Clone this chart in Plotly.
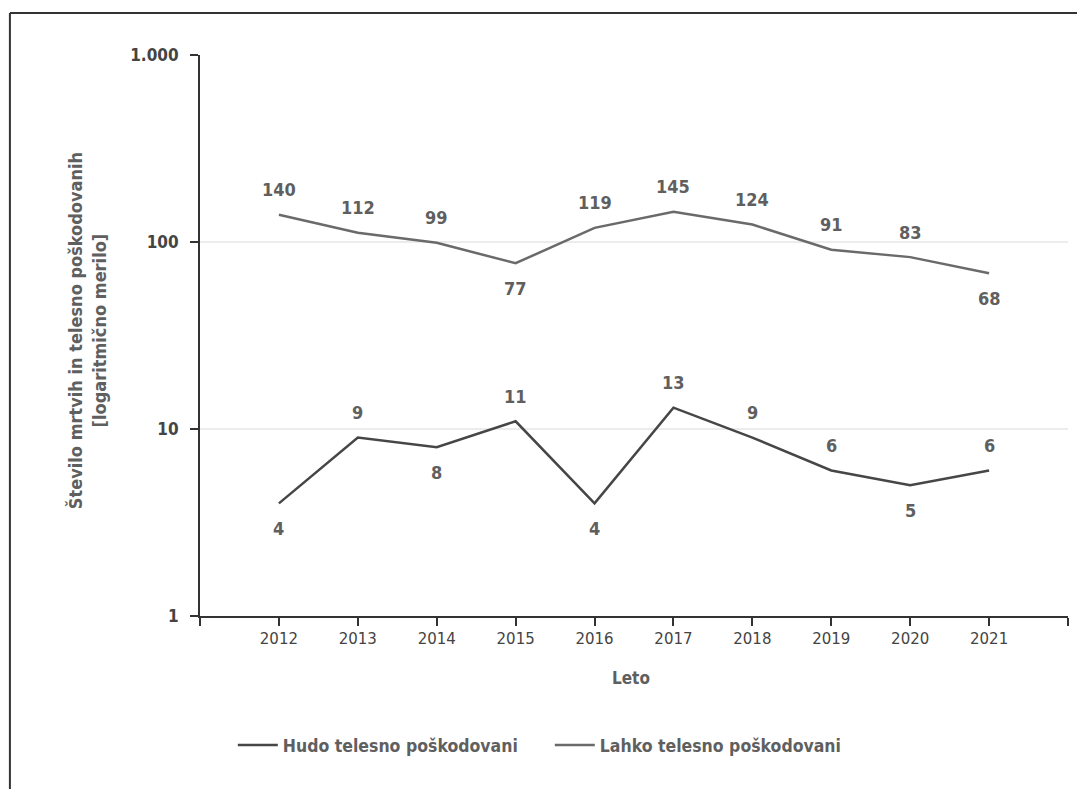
import math
import plotly.graph_objects as go

years = [2012, 2013, 2014, 2015, 2016, 2017, 2018, 2019, 2020, 2021]
hudo = [4, 9, 8, 11, 4, 13, 9, 6, 5, 6]
lahko = [140, 112, 99, 77, 119, 145, 124, 91, 83, 68]
hudo_pos = [-1, 1, -1, 1, -1, 1, 1, 1, -1, 1]
lahko_pos = [1, 1, 1, -1, 1, 1, 1, 1, 1, -1]
y_tickvals = [1, 10, 100, 1000]
y_ticktext = ["1", "10", "100", "1.000"]
x_tickvals = [2011] + years + [2022]
x_ticktext = [""] + [str(y) for y in years] + [""]

FONT = "DejaVu Sans Condensed"
TXT = "#5f5f5f"
C_HUDO = "#464646"
C_LAHKO = "#6a6a6a"

fig = go.Figure()
fig.add_trace(go.Scatter(x=years, y=hudo, mode="lines", name="Hudo telesno poškodovani",
                         line=dict(color=C_HUDO, width=2.5)))
fig.add_trace(go.Scatter(x=years, y=lahko, mode="lines", name="Lahko telesno poškodovani",
                         line=dict(color=C_LAHKO, width=2.5)))

annotations = []
for series, pos in ((hudo, hudo_pos), (lahko, lahko_pos)):
    for x, v, p in zip(years, series, pos):
        annotations.append(dict(x=x, y=math.log10(v), text=f"<b>{v}</b>",
                                showarrow=False, yshift=25 * p,
                                font=dict(family=FONT, size=18, color=TXT)))

annotations.append(dict(xref="paper", yref="paper", x=0.496, y=-0.1105, text="<b>Leto</b>",
                        xanchor="center", yanchor="middle",
                        showarrow=False, font=dict(family=FONT, size=17, color=TXT)))
annotations.append(dict(xref="paper", yref="paper", x=-0.130, y=0.508, textangle=-90,
                        xanchor="center", yanchor="middle",
                        text="<b>Število mrtvih in telesno poškodovanih<br>[logaritmično merilo]</b>",
                        showarrow=False, font=dict(family=FONT, size=18, color=TXT)))

fig.update_layout(
    width=1085, height=789,
    margin=dict(l=192, r=25, t=47, b=181),
    paper_bgcolor="white", plot_bgcolor="white",
    showlegend=True,
    legend=dict(orientation="h", x=0.403, y=-0.23, xanchor="center", yanchor="middle",
                font=dict(family=FONT, size=17.5, color=TXT, weight="bold"),
                entrywidth=262, entrywidthmode="pixels",
                itemwidth=40, tracegroupgap=0),
    annotations=annotations,
    xaxis=dict(range=[2011, 2022], tickvals=x_tickvals, ticktext=x_ticktext,
               showgrid=False, zeroline=False, showline=True, linecolor="#333333", linewidth=2,
               ticks="outside", ticklen=8, tickwidth=2, tickcolor="#333333",
               tickfont=dict(family="DejaVu Sans", size=15, color="#444444")),
    yaxis=dict(type="log", range=[0, 3], tickvals=y_tickvals, ticktext=y_ticktext,
               showgrid=True, gridcolor="#ececec", gridwidth=1.5, zeroline=False,
               showline=True, linecolor="#333333", linewidth=2,
               ticks="outside", ticklen=8, tickwidth=2, tickcolor="#333333",
               ticklabelstandoff=8,
               tickfont=dict(family=FONT, size=17, color="#444444", weight="bold")),
    shapes=[
        dict(type="line", xref="paper", yref="paper", x0=-0.219, x1=1.03, y0=1.0749, y1=1.0749,
             line=dict(color="#333333", width=2)),
        dict(type="line", xref="paper", yref="paper", x0=-0.219, x1=-0.219, y0=1.0749, y1=-0.33,
             line=dict(color="#333333", width=2)),
    ],
)

fig.write_html("out.html")
